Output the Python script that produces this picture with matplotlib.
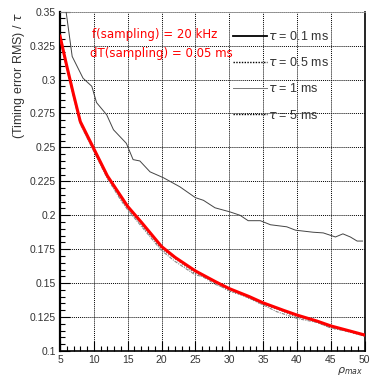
import numpy as np
import matplotlib
matplotlib.use("Agg")
import matplotlib.pyplot as plt
from matplotlib.ticker import MultipleLocator, FuncFormatter

# values
x_red = [5, 6, 7, 8, 9, 10, 12, 14, 15, 17, 20, 22, 25, 28, 30, 33, 35, 38, 40, 43, 45, 48, 50]
y_red = [0.332, 0.310, 0.289, 0.269, 0.259, 0.249, 0.229, 0.214, 0.2065, 0.195, 0.177, 0.169, 0.159,
         0.151, 0.146, 0.140, 0.1355, 0.130, 0.1265, 0.122, 0.1185, 0.1145, 0.1118]

x_05 = [5, 6, 7, 8, 9, 10, 12, 14, 15, 17, 20, 22, 25, 27, 30, 32, 35, 37, 40, 42, 45, 47, 50]
y_05 = [0.331, 0.309, 0.288, 0.268, 0.258, 0.248, 0.228, 0.212, 0.205, 0.193, 0.175, 0.168, 0.157,
        0.153, 0.144, 0.141, 0.134, 0.131, 0.125, 0.123, 0.117, 0.115, 0.111]

x_5 = [5, 6, 7, 8, 9, 10, 12, 14, 15, 17, 20, 22, 25, 26, 28, 30, 33, 35, 37, 40, 41, 43, 45, 48, 50]
y_5 = [0.330, 0.308, 0.287, 0.267, 0.257, 0.247, 0.227, 0.211, 0.204, 0.192, 0.174, 0.166, 0.156,
       0.155, 0.149, 0.145, 0.139, 0.134, 0.129, 0.124, 0.123, 0.121, 0.117, 0.114, 0.111]

x_1 = [5.9, 6.8, 7.6, 8.4, 9.7, 10.4, 11.9, 12.9, 14.8, 15.8, 16.8, 18.3, 20.3, 22.7, 25, 26.2, 27.9,
       30.1, 31.6, 32.8, 34.6, 36.1, 38.5, 39.8, 42.4, 43.9, 45.7, 46.8, 47.9, 48.9, 49.7]
y_1 = [0.350, 0.317, 0.309, 0.301, 0.295, 0.283, 0.274, 0.263, 0.253, 0.241, 0.240, 0.232, 0.2276,
       0.221, 0.213, 0.211, 0.2055, 0.2025, 0.200, 0.196, 0.196, 0.193, 0.1915, 0.189, 0.1875, 0.187,
       0.184, 0.1863, 0.184, 0.181, 0.181]

legend_labels = ["$\\tau$ = 0.1 ms", "$\\tau$ = 0.5 ms", "$\\tau$ = 1 ms", "$\\tau$ = 5 ms"]

plt.rcParams['font.family'] = ['Liberation Sans', 'DejaVu Sans']
plt.rcParams['mathtext.fontset'] = 'dejavusans'

fig = plt.figure(figsize=(3.72, 3.76), dpi=100)
ax = fig.add_axes([0.1613, 0.0665, 0.8187, 0.9025])

ax.plot(x_05, y_05, color="#555555", lw=0.8, ls=(0, (1, 1.5)), zorder=3)
ax.plot(x_5, y_5, color="#888888", lw=0.8, ls=(0, (1, 1, 3, 1)), zorder=3)
ax.plot(x_1, y_1, color="#444444", lw=0.7, zorder=3)
ax.plot(x_red, y_red, color="red", lw=2.2, zorder=4)

# legend handles drawn in black like the reference
h1, = ax.plot([], [], color="black", lw=1.3)
h2, = ax.plot([], [], color="black", lw=1.0, ls=(0, (1, 1)))
h3, = ax.plot([], [], color="#777777", lw=0.7)
h4, = ax.plot([], [], color="black", lw=1.0, ls=(0, (1, 1)))
leg = ax.legend([h1, h2, h3, h4], legend_labels, loc="upper left", bbox_to_anchor=(0.553, 0.96),
                frameon=False, fontsize=9, handlelength=2.7, handletextpad=0.05,
                labelspacing=1.05, borderaxespad=0)
for t in leg.get_texts():
    t.set_color("#333333")

ax.text(0.105, 0.932, "f(sampling) = 20 kHz", transform=ax.transAxes, color="red",
        fontsize=8.5, family="DejaVu Sans", va="center")
ax.text(0.1, 0.877, "dT(sampling) = 0.05 ms", transform=ax.transAxes, color="red",
        fontsize=8.5, family="DejaVu Sans", va="center")

ax.set_xlim(5, 50)
ax.set_ylim(0.1, 0.35)
ax.xaxis.set_major_locator(MultipleLocator(5))
ax.xaxis.set_minor_locator(MultipleLocator(1))
ax.yaxis.set_major_locator(MultipleLocator(0.025))
ax.yaxis.set_minor_locator(MultipleLocator(0.005))
ax.yaxis.set_major_formatter(FuncFormatter(lambda v, p: ("%.3f" % v).rstrip("0").rstrip(".")))
ax.tick_params(which="both", direction="in", top=False, right=False, labelsize=7.5,
               colors="black", labelcolor="#333333")
ax.tick_params(which="major", length=7, width=0.8, pad=3)
ax.tick_params(which="minor", length=3.5, width=0.8)
ax.grid(True, which="major", color="black", ls=(0, (1, 1)), lw=0.7)

ax.spines["left"].set_linewidth(1.6)
ax.spines["bottom"].set_linewidth(1.2)
ax.spines["right"].set_linewidth(1.2)
ax.spines["top"].set_linewidth(0.6)
ax.spines["top"].set_color("#999999")

ax.set_ylabel("(Timing error RMS) / $\\tau$", fontsize=9, color="#333333", loc="top")
ax.yaxis.set_label_coords(-0.11, 1.0)
ax.text(0.995, -0.04, "$\\rho_{max}$", transform=ax.transAxes, fontsize=8, color="#333333",
        ha="right", va="top")

fig.savefig("out.png", dpi=100)
